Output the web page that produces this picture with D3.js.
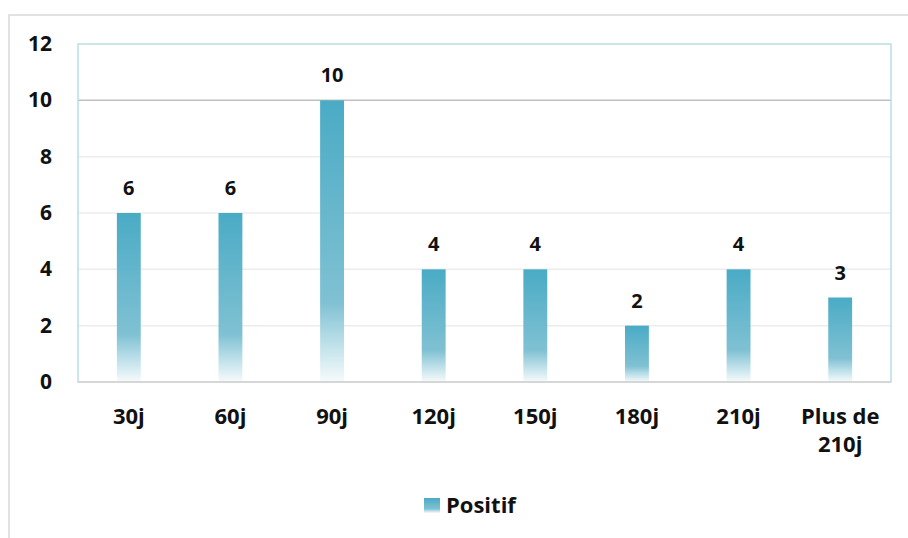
<!DOCTYPE html>
<html>
<head>
<meta charset="utf-8">
<script src="https://cdn.jsdelivr.net/npm/d3@7"></script>
<style>
  body { margin: 0; background: #fff; }
  text { font-family: "Open Sans", sans-serif; font-weight: bold; fill: #111; }
</style>
</head>
<body>
<div id="chart"></div>
<script>
var categories = ['30j', '60j', '90j', '120j', '150j', '180j', '210j', 'Plus de|210j'];
var values = [6, 6, 10, 4, 4, 2, 4, 3];
var yTicks = [0, 2, 4, 6, 8, 10, 12];
var seriesName = 'Positif';

var W = 908, H = 538;
var plotL = 78, plotR = 891, plotT = 44, plotB = 382;

var svg = d3.select('#chart').append('svg')
   .attr('width', W)
   .attr('height', H);

var defs = svg.append('defs');
var grad = defs.append('linearGradient')
   .attr('id', 'barGrad')
   .attr('x1', 0).attr('y1', 0).attr('x2', 0).attr('y2', 1);
[[0, '#4aabc5'], [0.72, '#80c1d3'], [0.84, '#b3dbe6'], [1, '#f6fbfc']].forEach(function(s){
   grad.append('stop').attr('offset', s[0]).attr('stop-color', s[1]);
});

// outer frame (runs off the page right and bottom)
svg.append('rect')
   .attr('x', 9).attr('y', 15)
   .attr('width', W).attr('height', H)
   .attr('fill', 'none')
   .attr('stroke', '#d9d9d9')
   .attr('stroke-width', 1.5);

var x = d3.scaleBand().domain(categories).range([plotL, plotR]).padding(0);
var y = d3.scaleLinear().domain([0, 12]).range([plotB, plotT]);

// gridlines
svg.append('g').selectAll('line')
   .data(yTicks.filter(function(d){ return d > 0 && d < 12; }))
   .enter().append('line')
   .attr('x1', plotL).attr('x2', plotR)
   .attr('y1', function(d){ return y(d); })
   .attr('y2', function(d){ return y(d); })
   .attr('stroke', function(d){ return d == 10 ? '#c0c0c0' : '#ececec'; })
   .attr('stroke-width', 1.5);

// plot area border
svg.append('rect')
   .attr('x', plotL).attr('y', plotT)
   .attr('width', plotR - plotL).attr('height', plotB - plotT)
   .attr('fill', 'none')
   .attr('stroke', '#b9dee8')
   .attr('stroke-width', 1.5);

// bars
var bw = x.bandwidth() * 0.235;
svg.append('g').selectAll('rect')
   .data(values)
   .enter().append('rect')
   .attr('x', function(d, i){ return x(categories[i]) + x.bandwidth() / 2 - bw / 2; })
   .attr('y', function(d){ return y(d); })
   .attr('width', bw)
   .attr('height', function(d){ return plotB - y(d); })
   .attr('fill', 'url(#barGrad)');

// x axis line
svg.append('line')
   .attr('x1', plotL).attr('x2', plotR)
   .attr('y1', plotB).attr('y2', plotB)
   .attr('stroke', '#d6d6d6')
   .attr('stroke-width', 2);

// value labels
svg.append('g').selectAll('text')
   .data(values)
   .enter().append('text')
   .attr('x', function(d, i){ return x(categories[i]) + x.bandwidth() / 2; })
   .attr('y', function(d){ return y(d) - 18; })
   .attr('text-anchor', 'middle')
   .style('font-size', '20px')
   .text(function(d){ return d; });

// y tick labels
svg.append('g').selectAll('text')
   .data(yTicks)
   .enter().append('text')
   .attr('x', 52)
   .attr('y', function(d){ return y(d) + 7; })
   .attr('text-anchor', 'end')
   .style('font-size', '21px')
   .text(function(d){ return d; });

// category labels
var cat = svg.append('g').selectAll('text')
   .data(categories)
   .enter().append('text')
   .attr('text-anchor', 'middle')
   .style('font-size', '22px');
cat.each(function(d){
   var t = d3.select(this);
   var cx = x(d) + x.bandwidth() / 2;
   d.split('|').forEach(function(line, k){
      t.append('tspan').attr('x', cx).attr('y', 424 + k * 28).text(line);
   });
});

// legend
svg.append('rect')
   .attr('x', 424).attr('y', 498)
   .attr('width', 16).attr('height', 15)
   .attr('fill', 'url(#barGrad)');
svg.append('text')
   .attr('x', 446).attr('y', 513)
   .style('font-size', '22px')
   .text(seriesName);
</script>
</body>
</html>
